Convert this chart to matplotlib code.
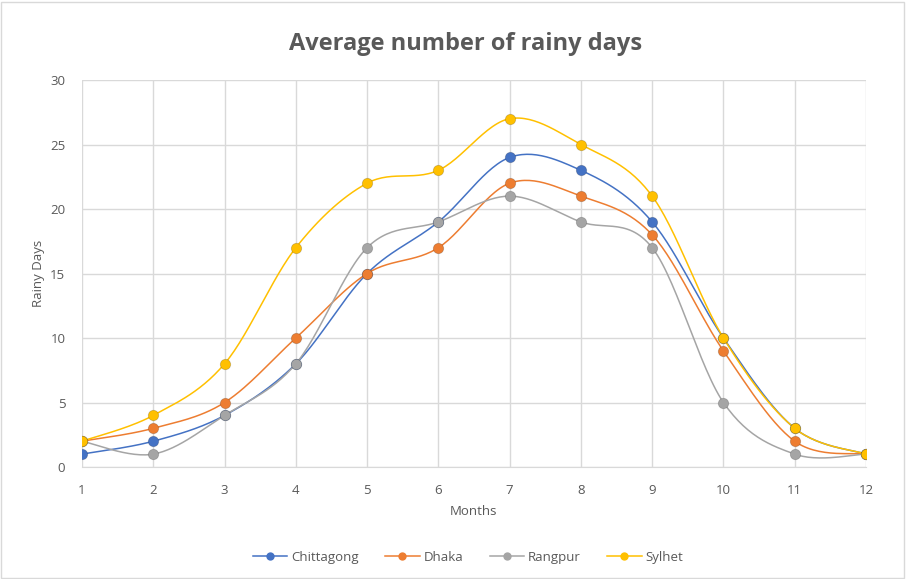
import numpy as np
import matplotlib
matplotlib.use('Agg')
import matplotlib.pyplot as plt
from matplotlib.patches import Rectangle

months = [1, 2, 3, 4, 5, 6, 7, 8, 9, 10, 11, 12]
chittagong = [1, 2, 4, 8, 15, 19, 24, 23, 19, 10, 3, 1]
dhaka = [2, 3, 5, 10, 15, 17, 22, 21, 18, 9, 2, 1]
rangpur = [2, 1, 4, 8, 17, 19, 21, 19, 17, 5, 1, 1]
sylhet = [2, 4, 8, 17, 22, 23, 27, 25, 21, 10, 3, 1]

series = [
    ('Chittagong', chittagong, '#4472C4'),
    ('Dhaka', dhaka, '#ED7D31'),
    ('Rangpur', rangpur, '#A5A5A5'),
    ('Sylhet', sylhet, '#FFC000'),
]

text_color = '#595959'
plt.rcParams['font.family'] = ['Open Sans', 'DejaVu Sans']


def smooth(x, y, n=30):
    # Catmull-Rom curve through the points, like a spreadsheet "smoothed line"
    x = np.asarray(x, float)
    y = np.asarray(y, float)
    px = np.concatenate([[x[0]], x, [x[-1]]])
    py = np.concatenate([[y[0]], y, [y[-1]]])
    xs, ys = [], []
    t = np.linspace(0, 1, n)
    for i in range(1, len(px) - 2):
        # bezier control points
        c1x = px[i] + (px[i + 1] - px[i - 1]) / 6.0
        c1y = py[i] + (py[i + 1] - py[i - 1]) / 6.0
        c2x = px[i + 1] - (px[i + 2] - px[i]) / 6.0
        c2y = py[i + 1] - (py[i + 2] - py[i]) / 6.0
        b0 = (1 - t) ** 3
        b1 = 3 * (1 - t) ** 2 * t
        b2 = 3 * (1 - t) * t ** 2
        b3 = t ** 3
        xs.append(b0 * px[i] + b1 * c1x + b2 * c2x + b3 * px[i + 1])
        ys.append(b0 * py[i] + b1 * c1y + b2 * c2y + b3 * py[i + 1])
    return np.concatenate(xs), np.concatenate(ys)


fig = plt.figure(figsize=(9.09, 5.79), dpi=100)
ax = fig.add_axes([0.0902, 0.1934, 0.8625, 0.6684])

for name, vals, col in series:
    sx, sy = smooth(months, vals)
    ax.plot(sx, sy, '-', color=col, linewidth=1.1, zorder=3)
    ax.plot(months, vals, 'o', color=col, markersize=7.5, zorder=4,
            markeredgewidth=0.6, markeredgecolor='#00000030')
    ax.plot([], [], '-o', color=col, linewidth=1.1, markersize=6,
            markeredgewidth=0, label=name)

ax.set_xlim(1, 12)
ax.set_ylim(0, 30)
ax.set_xticks(months)
ax.set_yticks(range(0, 31, 5))
ax.grid(True, color='#D9D9D9', linewidth=1.0, zorder=0)
ax.set_axisbelow(True)
for s in ['top', 'right', 'left']:
    ax.spines[s].set_visible(False)
ax.spines['bottom'].set_color('#D9D9D9')
ax.tick_params(length=0, colors=text_color, labelsize=9.5)
ax.tick_params(axis='x', pad=12)
ax.tick_params(axis='y', pad=12)

ax.set_xlabel('Months', color=text_color, fontsize=9.5, labelpad=6)
ax.set_ylabel('Rainy Days', color=text_color, fontsize=9.5, labelpad=4)
fig.suptitle('Average number of rainy days', x=0.512, y=0.945,
             fontsize=17, fontweight='bold', color=text_color)

fig.legend(loc='center', bbox_to_anchor=(0.515, 0.037), ncol=4, frameon=False,
           fontsize=9.5, labelcolor=text_color, handlelength=2.6,
           columnspacing=2.0, handletextpad=0.3)

fig.patches.append(Rectangle((0.001, 0.002), 0.994, 0.995, transform=fig.transFigure,
                             fill=False, edgecolor='#D9D9D9', linewidth=1.0))

plt.savefig('out.png', dpi=100)
plt.close('all')
